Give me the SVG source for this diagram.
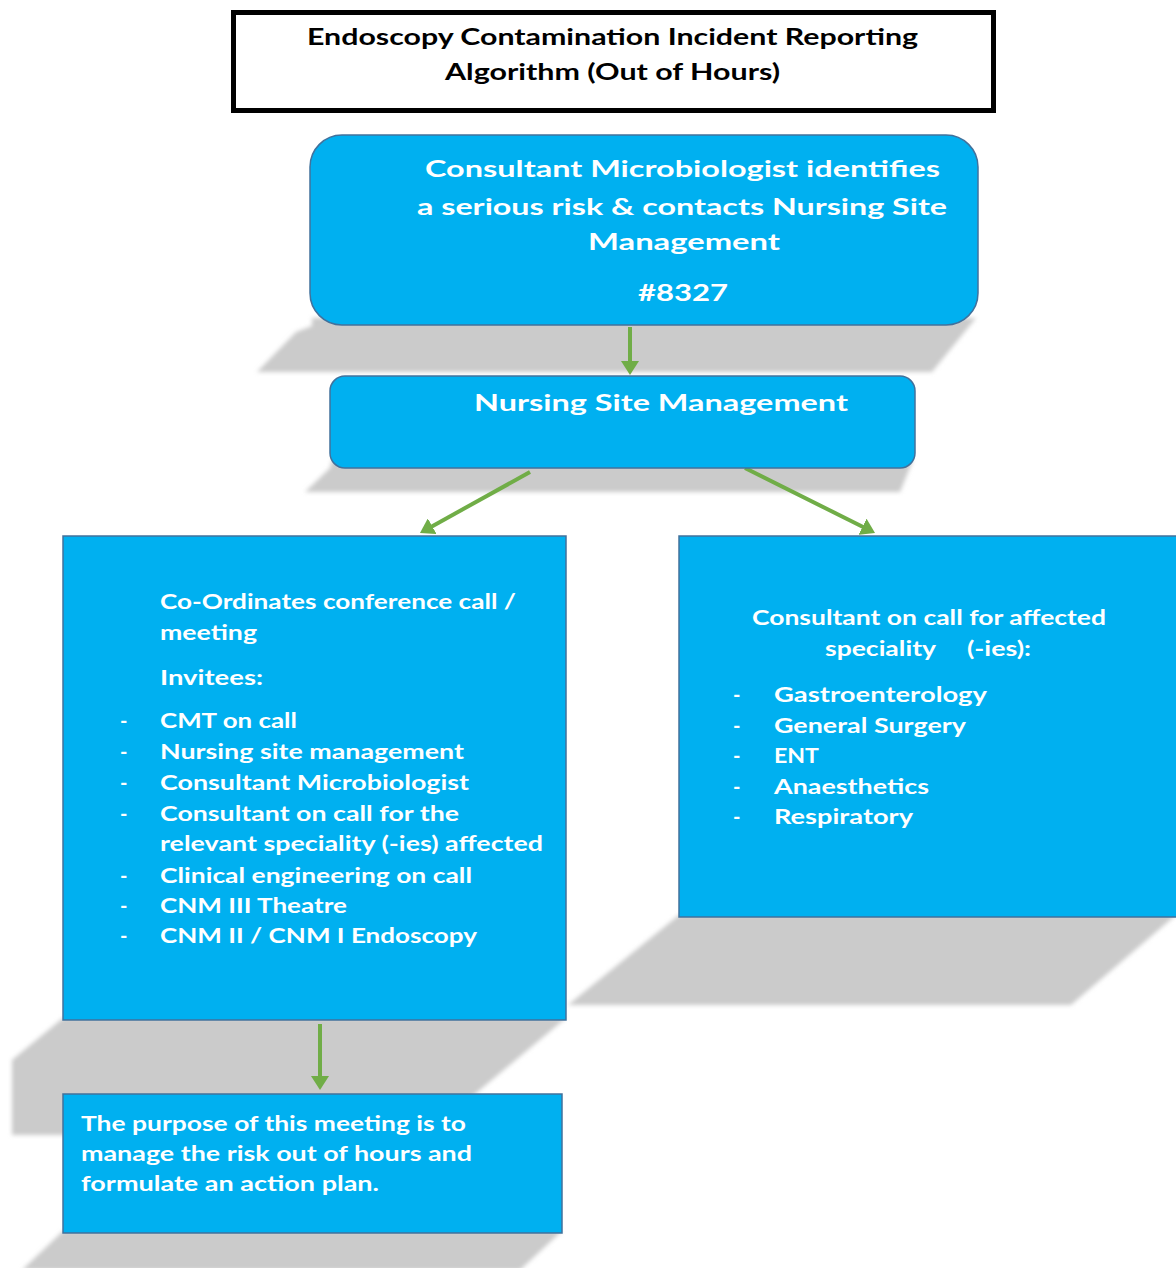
<svg xmlns="http://www.w3.org/2000/svg" width="1176" height="1268" viewBox="0 0 1176 1268">
<defs>
<style>
.box{fill:#00B0F0;stroke:#41719C;stroke-width:1.5}
.shadow{fill:#CBCBCB;filter:url(#blur)}
.t{font-family:Lato,"Liberation Sans",sans-serif;font-weight:bold;fill:#FFFFFF}
.title{font-family:Lato,"Liberation Sans",sans-serif;font-weight:bold;fill:#000000;font-size:23px}
.big{font-size:23px}
.sm{font-size:20px}
.conn{stroke:#70AD47;stroke-width:4;fill:none;marker-end:url(#ah)}
</style>
<filter id="blur" x="-5%" y="-20%" width="110%" height="140%"><feGaussianBlur stdDeviation="2"/></filter>
<marker id="ah" markerUnits="userSpaceOnUse" markerWidth="16" markerHeight="18" refX="4" refY="9" orient="auto" viewBox="0 0 16 18">
<path d="M0,0 L14,9 L0,18 z" fill="#70AD47"/>
</marker>
</defs>
<rect width="1176" height="1268" fill="#FFFFFF"/>

<g id="shadows">
<polygon class="shadow" points="312,318 976,318 932,372 257,372 296,332 312,326"/>
<polygon class="shadow" points="332,460 913,460 900,492 305,492 330,468"/>
<polygon class="shadow" points="679,915 1176,915 1071,1005 568,1005"/>
<polygon class="shadow" points="63,1018 566,1018 426,1135 12,1135 12,1060"/>
<polygon class="shadow" points="63,1231 562,1231 520,1270 22,1270"/>
</g>

<g id="connectors">
<line class="conn" x1="630" y1="327" x2="630" y2="365"/>
<line class="conn" x1="530" y1="472" x2="428.7" y2="528.2"/>
<line class="conn" x1="745" y1="468" x2="866.1" y2="528.5"/>
<line class="conn" x1="320" y1="1024" x2="320" y2="1080"/>
</g>

<g id="title">
<rect x="233.5" y="12.5" width="760" height="98" fill="#FFFFFF" stroke="#000000" stroke-width="5"/>
<text class="title" x="307" y="45" textLength="611" lengthAdjust="spacingAndGlyphs">Endoscopy Contamination Incident Reporting</text>
<text class="title" x="445" y="80" textLength="335" lengthAdjust="spacingAndGlyphs">Algorithm (Out of Hours)</text>
</g>

<g id="microbiologist">
<rect class="box" x="310" y="135" width="668" height="190" rx="32" ry="32"/>
<text class="t big" x="425" y="177" textLength="515" lengthAdjust="spacingAndGlyphs">Consultant Microbiologist identifies</text>
<text class="t big" x="417" y="215" textLength="530" lengthAdjust="spacingAndGlyphs">a serious risk &amp; contacts Nursing Site</text>
<text class="t big" x="588" y="250" textLength="192" lengthAdjust="spacingAndGlyphs">Management</text>
<text class="t big" x="638" y="301" textLength="90" lengthAdjust="spacingAndGlyphs">#8327</text>
</g>

<g id="nursing-site">
<rect class="box" x="330" y="376" width="585" height="92" rx="15" ry="15"/>
<text class="t big" x="474" y="411" textLength="374" lengthAdjust="spacingAndGlyphs">Nursing Site Management</text>
</g>

<g id="conference">
<rect class="box" x="63" y="536" width="503" height="484"/>
<text class="t sm" x="160" y="609" textLength="356" lengthAdjust="spacingAndGlyphs">Co-Ordinates conference call /</text>
<text class="t sm" x="160" y="640" textLength="97" lengthAdjust="spacingAndGlyphs">meeting</text>
<text class="t sm" x="160" y="685" textLength="103" lengthAdjust="spacingAndGlyphs">Invitees:</text>
<text class="t sm" x="120" y="728">-</text>
<text class="t sm" x="160" y="728" textLength="137" lengthAdjust="spacingAndGlyphs">CMT on call</text>
<text class="t sm" x="120" y="759">-</text>
<text class="t sm" x="160" y="759" textLength="304" lengthAdjust="spacingAndGlyphs">Nursing site management</text>
<text class="t sm" x="120" y="790">-</text>
<text class="t sm" x="160" y="790" textLength="309" lengthAdjust="spacingAndGlyphs">Consultant Microbiologist</text>
<text class="t sm" x="120" y="821">-</text>
<text class="t sm" x="160" y="821" textLength="299" lengthAdjust="spacingAndGlyphs">Consultant on call for the</text>
<text class="t sm" x="160" y="851" textLength="383" lengthAdjust="spacingAndGlyphs">relevant speciality (-ies) affected</text>
<text class="t sm" x="120" y="883">-</text>
<text class="t sm" x="160" y="883" textLength="312" lengthAdjust="spacingAndGlyphs">Clinical engineering on call</text>
<text class="t sm" x="120" y="913">-</text>
<text class="t sm" x="160" y="913" textLength="187" lengthAdjust="spacingAndGlyphs">CNM III Theatre</text>
<text class="t sm" x="120" y="943">-</text>
<text class="t sm" x="160" y="943" textLength="317" lengthAdjust="spacingAndGlyphs">CNM II / CNM I Endoscopy</text>
</g>

<g id="speciality">
<rect class="box" x="679" y="536" width="500" height="381"/>
<text class="t sm" x="752" y="625" textLength="354" lengthAdjust="spacingAndGlyphs">Consultant on call for affected</text>
<text class="t sm" x="825" y="656" textLength="111" lengthAdjust="spacingAndGlyphs">speciality</text>
<text class="t sm" x="967" y="656" textLength="64" lengthAdjust="spacingAndGlyphs">(-ies):</text>
<text class="t sm" x="733" y="702">-</text>
<text class="t sm" x="774" y="702" textLength="213" lengthAdjust="spacingAndGlyphs">Gastroenterology</text>
<text class="t sm" x="733" y="733">-</text>
<text class="t sm" x="774" y="733" textLength="192" lengthAdjust="spacingAndGlyphs">General Surgery</text>
<text class="t sm" x="733" y="763">-</text>
<text class="t sm" x="774" y="763" textLength="45" lengthAdjust="spacingAndGlyphs">ENT</text>
<text class="t sm" x="733" y="794">-</text>
<text class="t sm" x="774" y="794" textLength="155" lengthAdjust="spacingAndGlyphs">Anaesthetics</text>
<text class="t sm" x="733" y="824">-</text>
<text class="t sm" x="774" y="824" textLength="139" lengthAdjust="spacingAndGlyphs">Respiratory</text>
</g>

<g id="purpose">
<rect class="box" x="63" y="1094" width="499" height="139"/>
<text class="t sm" x="81" y="1131" textLength="385" lengthAdjust="spacingAndGlyphs">The purpose of this meeting is to</text>
<text class="t sm" x="81" y="1161" textLength="391" lengthAdjust="spacingAndGlyphs">manage the risk out of hours and</text>
<text class="t sm" x="81" y="1191" textLength="298" lengthAdjust="spacingAndGlyphs">formulate an action plan.</text>
</g>
</svg>
